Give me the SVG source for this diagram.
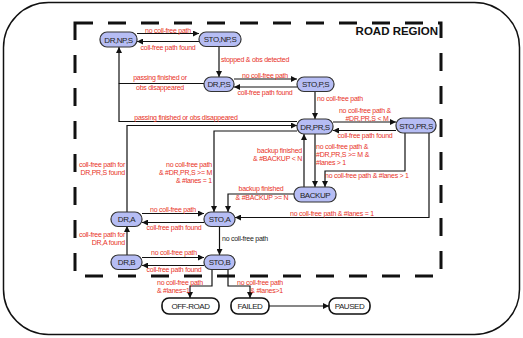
<svg xmlns="http://www.w3.org/2000/svg" width="523" height="338" viewBox="0 0 523 338">
<style>
.n rect{fill:#b6bdf4;stroke:#333;stroke-width:1.2}
.t rect{fill:#fff;stroke:#111;stroke-width:1.6}
.n text,.t text{font-family:"Liberation Sans",Arial,sans-serif;font-size:8px;letter-spacing:-0.45px;fill:#222;text-anchor:middle}
.e path{fill:none;stroke:#111;stroke-width:1.2}
.l{font-family:"Liberation Sans",Arial,sans-serif;font-size:7px;letter-spacing:-0.25px;fill:#e8321f}
.m{text-anchor:middle}.r{text-anchor:end}
</style>
<defs>
<marker id="a" viewBox="0 0 6 6" refX="6" refY="3" markerWidth="6" markerHeight="6" markerUnits="userSpaceOnUse" orient="auto">
<path d="M0,0 L6,3 L0,6 z" fill="#111"/>
</marker>
</defs>
<rect x="3.5" y="2.5" width="516" height="332" rx="45" fill="#fff" stroke="#111" stroke-width="1.5"/>
<rect x="75" y="23" width="366" height="253" fill="none" stroke="#111" stroke-width="3" stroke-dasharray="18 15"/>
<text x="438" y="35" font-family="Liberation Sans,Arial,sans-serif" font-size="11.5" font-weight="bold" text-anchor="end" fill="#111">ROAD REGION</text>
<g class="e">
<path d="M137,33.5 H199" marker-end="url(#a)"/>
<path d="M199,41.5 H137" marker-end="url(#a)"/>
<path d="M219,46 V77" marker-end="url(#a)"/>
<path d="M204,83.5 H119 V47" marker-end="url(#a)"/>
<path d="M234,79 H297" marker-end="url(#a)"/>
<path d="M297,87 H234" marker-end="url(#a)"/>
<path d="M315,91 V119" marker-end="url(#a)"/>
<path d="M297,121.5 H119 V83.5"/>
<path d="M127,212 V125.5 H297" marker-end="url(#a)"/>
<path d="M333,122 H396" marker-end="url(#a)"/>
<path d="M396,130.5 H333" marker-end="url(#a)"/>
<path d="M297,131 H214 V212" marker-end="url(#a)"/>
<path d="M304,187 V134" marker-end="url(#a)"/>
<path d="M315,134 V187" marker-end="url(#a)"/>
<path d="M405,133 V171 H325 V187" marker-end="url(#a)"/>
<path d="M429,133 V217.5 H235" marker-end="url(#a)"/>
<path d="M294,194 H228 V212" marker-end="url(#a)"/>
<path d="M142,213.5 H204" marker-end="url(#a)"/>
<path d="M204,222.5 H142" marker-end="url(#a)"/>
<path d="M219.5,226 V255" marker-end="url(#a)"/>
<path d="M127,255 V226" marker-end="url(#a)"/>
<path d="M142,257.5 H204" marker-end="url(#a)"/>
<path d="M204,265.5 H142" marker-end="url(#a)"/>
<path d="M212,269 V286 H190 V298" marker-end="url(#a)"/>
<path d="M228,269 V286 H250 V298" marker-end="url(#a)"/>
<path d="M269,306 H329" marker-end="url(#a)"/>
</g>
<g id="labels">
<text class="l m" x="168" y="32.5">no coll-free path</text>
<text class="l m" x="168" y="49.5">coll-free path found</text>
<text class="l" x="221" y="62">stopped &amp; obs detected</text>
<text class="l m" x="160" y="80">passing finished or</text>
<text class="l m" x="160" y="90">obs disappeared</text>
<text class="l m" x="265" y="77.5">no coll-free path</text>
<text class="l m" x="265" y="95">coll-free path found</text>
<text class="l" x="317" y="101">no coll-free path</text>
<text class="l m" x="186" y="119.5">passing finished or obs disappeared</text>
<text class="l m" x="365" y="113">no coll-free path &amp;</text>
<text class="l m" x="367" y="121">#DR,PR,S &lt; M</text>
<text class="l m" x="365" y="137.5">coll-free path found</text>
<text class="l r" x="302" y="153">backup finished</text>
<text class="l r" x="302" y="161">&amp; #BACKUP &lt; N</text>
<text class="l" x="316" y="149">no coll-free path &amp;</text>
<text class="l" x="316" y="157">#DR,PR,S &gt;= M &amp;</text>
<text class="l" x="316" y="165">#lanes &gt; 1</text>
<text class="l" x="325" y="178">no coll-free path &amp; #lanes &gt; 1</text>
<text class="l r" x="125" y="167">coll-free path for</text>
<text class="l r" x="125" y="175">DR,PR,S found</text>
<text class="l r" x="212" y="167">no coll-free path</text>
<text class="l r" x="212" y="175">&amp; #DR,PR,S &gt;= M</text>
<text class="l r" x="212" y="182.5">&amp; #lanes = 1</text>
<text class="l m" x="261" y="191">backup finished</text>
<text class="l m" x="262" y="200">&amp; #BACKUP &gt;= N</text>
<text class="l m" x="173" y="212">no coll-free path</text>
<text class="l m" x="174" y="230">coll-free path found</text>
<text class="l m" x="332" y="216">no coll-free path &amp; #lanes = 1</text>
<text class="l r" x="125" y="237">coll-free path for</text>
<text class="l r" x="125" y="245">DR,A found</text>
<text class="l" x="222" y="241" style="fill:#222">no coll-free path</text>
<text class="l m" x="174" y="255">no coll-free path</text>
<text class="l m" x="174" y="272">coll-free path found</text>
<text class="l" x="157" y="285">no coll-free path</text>
<text class="l" x="157" y="293">&amp; #lanes=1</text>
<text class="l r" x="283" y="285">no coll-free path</text>
<text class="l r" x="283" y="293">&amp; #lanes&gt;1</text>
</g>
<g id="DR_NP_S" class="n"><rect x="100" y="32" width="37" height="15" rx="7"/><text x="118.5" y="42.5">DR,NP,S</text></g>
<g id="STO_NP_S" class="n"><rect x="199" y="32" width="42" height="14.5" rx="7"/><text x="220" y="42.2">STO,NP,S</text></g>
<g id="DR_P_S" class="n"><rect x="204" y="77" width="30" height="14.5" rx="7"/><text x="219" y="87.2">DR,P,S</text></g>
<g id="STO_P_S" class="n"><rect x="297" y="77" width="37" height="14.5" rx="7"/><text x="315.5" y="87.2">STO,P,S</text></g>
<g id="DR_PR_S" class="n"><rect x="297" y="119" width="36" height="15" rx="7"/><text x="315" y="129.7">DR,PR,S</text></g>
<g id="STO_PR_S" class="n"><rect x="396" y="118" width="40" height="15" rx="7"/><text x="416" y="128.7">STO,PR,S</text></g>
<g id="BACKUP" class="n"><rect x="294" y="187" width="42" height="15" rx="7"/><text x="315" y="197.7">BACKUP</text></g>
<g id="DR_A" class="n"><rect x="111" y="212" width="31" height="14.5" rx="7"/><text x="126.5" y="222.2">DR,A</text></g>
<g id="STO_A" class="n"><rect x="204" y="212" width="31" height="14.5" rx="7"/><text x="219.5" y="222.2">STO,A</text></g>
<g id="DR_B" class="n"><rect x="111" y="255" width="31" height="14.5" rx="7"/><text x="126.5" y="265.2">DR,B</text></g>
<g id="STO_B" class="n"><rect x="204" y="255" width="31" height="14.5" rx="7"/><text x="219.5" y="265.2">STO,B</text></g>
<g id="OFF_ROAD" class="t"><rect x="162" y="298" width="57" height="16" rx="7"/><text x="190.5" y="309">OFF-ROAD</text></g>
<g id="FAILED" class="t"><rect x="231" y="298" width="38" height="16" rx="7"/><text x="250" y="309">FAILED</text></g>
<g id="PAUSED" class="t"><rect x="329" y="298" width="41" height="16" rx="7"/><text x="349.5" y="309">PAUSED</text></g>
</svg>
